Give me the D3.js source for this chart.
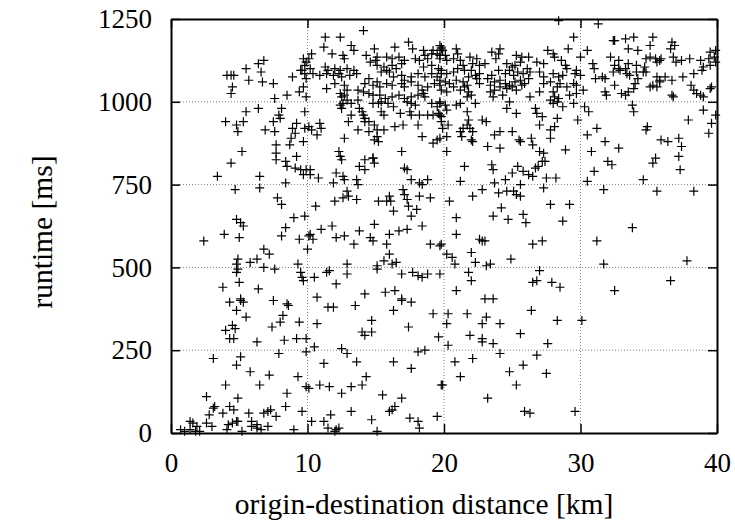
<!DOCTYPE html>
<html>
<head>
<meta charset="utf-8">
<script src="https://cdn.jsdelivr.net/npm/d3@7"></script>
<style>
  body { margin: 0; background: #fff; }
  svg { display: block; }
  text { font-family: "Liberation Serif", "Times New Roman", serif; fill: #000; }
</style>
</head>
<body>
<svg id="chart" width="735" height="530"></svg>
<script>
// axis ticks
const xTicks = [0, 10, 20, 30, 40];
const yTicks = [0, 250, 500, 750, 1000, 1250];

// [distance km, runtime ms]
const samples = [
  [6.8,1125],[6.4,1115],[5.5,1100],[6.6,1090],[4.1,1080],[4.4,1080],[4.6,1080],[5.7,1065],[6.7,1060],[7.5,1055],
  [4.5,1045],[4.4,1025],[8.5,1020],[7.6,1010],[9.4,1030],[9.7,1045],[8.9,1075],[9.5,1095],[9.7,1130],[9.9,1120],
  [9.8,1110],[9.6,1095],[9.8,1085],[9.9,1070],[6.4,980],[5.5,970],[8.1,980],[7.9,960],[4.0,940],[4.8,930],
  [5.3,940],[4.9,910],[7.5,940],[8.0,950],[6.9,915],[7.6,910],[9.2,935],[8.9,920],[9.1,905],[9.8,920],
  [8.8,890],[9.7,880],[8.7,870],[7.7,870],[5.2,850],[7.7,845],[9.2,835],[9.8,970],[9.9,1015],
  [4.4,815],[3.4,775],[6.5,775],[7.7,825],[8.4,820],[8.5,805],[9.1,800],[9.5,795],[9.7,780],[9.9,795],
  [8.4,755],[4.7,735],[6.5,740],[7.8,710],[8.1,690],[4.8,645],[5.1,635],[5.3,625],[9.0,650],[9.8,655],
  [8.4,620],[3.9,600],[5.0,590],[2.4,580],[8.1,595],[9.4,585],[10.1,595],[10.0,555],[6.8,555],[7.2,540],
  [4.9,525],[4.8,510],[4.9,495],[4.8,485],[5.8,515],[6.3,525],[6.8,500],[7.6,495],[9.3,510],[9.5,485],
  [9.6,470],[9.7,460],[3.8,440],[5.0,455],[6.4,435],[5.1,405],
  [4.3,395],[5.1,400],[5.3,395],[4.8,370],[5.5,350],[7.5,400],[8.5,390],[8.6,385],[8.2,355],[8.0,335],
  [7.4,320],[9.4,335],[4.5,325],[4.7,315],[4.0,310],[4.3,285],[4.6,285],[6.3,275],[8.3,280],[9.2,285],
  [9.9,285],[3.1,225],[5.1,230],[4.8,205],[7.9,240],[9.9,245],[5.8,185],[7.2,175],[9.3,170],[4.0,145],
  [6.5,145],[9.9,140],[2.6,110],[4.9,105],[8.5,120],[3.1,75],[3.2,80],[4.3,80],[4.6,70],[3.8,60],
  [2.8,55],[5.7,60],[6.8,60],[7.1,65],[7.3,70],[7.7,50],[8.4,80],[9.6,65],[1.4,35],[1.6,30],
  [2.6,30],[3.0,20],[4.2,25],[4.5,30],[4.8,35],[4.9,35],[5.9,35],[6.3,25],[5.9,20],[6.3,15],
  [7.1,20],[6.6,10],[9.0,10],[0.7,10],[1.0,5],[1.4,10],[1.8,5],[2.1,5],[1.9,20],[4.1,10],[5.2,5],
  [14.1,1215],[11.3,1195],[12.4,1195],[11.2,1165],[13.2,1170],[13.4,1155],[14.9,1160],[16.4,1165],[17.4,1180],[17.7,1160],
  [18.5,1155],[19.2,1155],[19.7,1170],[19.8,1160],[10.3,1145],[10.1,1130],[11.8,1145],[12.6,1140],[12.7,1130],[14.3,1140],
  [15.1,1135],[15.0,1125],[15.8,1135],[16.2,1130],[16.7,1135],[17.1,1125],[17.9,1130],[18.2,1125],[18.6,1140],[18.8,1130],
  [19.1,1145],[19.5,1145],[19.7,1140],[10.2,1100],[10.4,1085],[11.3,1105],[11.5,1095],[12.0,1100],[12.4,1095],[12.9,1100],
  [13.4,1095],[10.9,1080],[11.4,1085],[11.9,1080],[12.3,1085],[12.5,1075],[13.1,1080],[13.6,1085],[14.6,1120],[15.1,1110],
  [15.6,1105],[15.8,1095],[16.2,1110],[16.5,1100],[16.9,1115],[15.4,1090],[16.0,1090],[16.3,1075],[16.9,1080],[17.1,1065],
  [17.6,1075],[18.1,1085],[18.6,1075],[19.1,1085],[19.5,1075],[19.8,1085],[19.1,1110],[19.6,1100],[18.5,1105],[14.5,1070],
  [15.1,1060],[14.2,1055],[14.8,1050],[15.3,1045],[15.8,1055],[16.2,1050],[16.9,1055],[17.1,1045],[17.6,1060],[18.1,1050],
  [18.4,1035],[18.8,1045],[19.3,1055],[19.7,1050],[11.4,1040],[12.0,1055],[12.7,1050],[12.9,1035],[12.4,1025],[12.5,1015],
  [12.7,1020],[12.9,1005],[13.7,1035],[14.1,1030],[14.5,1025],[14.8,1020],[15.3,1020],[15.7,1010],[16.2,1015],[16.7,1020],
  [17.1,1010],[17.6,1015],[18.1,1020],[18.5,1025],[18.6,1015],[12.4,990],[12.5,980],[12.6,995],[13.2,995],[13.7,1005],
  [13.8,980],[14.8,995],[15.2,995],[15.4,1000],[15.9,995],[16.3,985],[17.3,1000],[17.6,995],[17.9,990],[19.1,995],
  [19.5,985],[19.7,1000],[13.2,960],[14.0,970],[14.1,960],[14.2,950],[15.4,970],[15.6,960],[16.8,965],[17.5,970],
  [17.6,960],[18.2,960],[18.8,960],[19.2,960],[19.6,965],[19.8,955],[13.0,940],[14.2,940],[14.5,940],[14.9,930],
  [16.4,925],[17.0,930],[18.1,930],[10.1,925],[10.3,915],[10.9,935],[11.0,920],[10.7,900],[13.7,915],[14.5,910],
  [15.1,915],[15.6,915],[15.1,895],[14.9,885],[15.2,880],[12.7,890],[18.4,895],[19.2,875],[19.5,885],[19.7,890],
  [12.3,850],[12.4,835],[14.8,830],[16.9,850],
  [12.5,825],[14.2,825],[14.8,830],[14.9,815],[13.8,805],[14.2,795],[10.2,795],[10.2,780],[10.8,770],[12.1,785],
  [12.6,775],[12.7,765],[13.6,765],[13.7,750],[11.9,755],[17.1,800],[17.3,795],[17.6,765],[18.2,755],[18.4,750],
  [18.8,765],[12.9,730],[13.0,715],[12.6,710],[13.6,705],[12.0,700],[10.6,685],[15.2,700],[15.8,700],[16.0,715],
  [16.1,700],[17.0,735],[17.1,720],[17.3,705],[17.4,685],[18.2,715],[19.0,710],[16.3,670],[18.0,675],[17.6,655],
  [11.0,615],[11.8,625],[13.8,610],[14.9,630],[10.2,600],[10.4,585],[12.1,590],[12.7,595],[14.6,590],[14.8,580],
  [13.4,570],[15.8,570],[16.0,600],[16.7,610],[17.3,615],[18.4,625],[19.0,570],[19.7,565],[16.0,540],[15.6,520],
  [15.1,505],[15.1,495],[16.2,510],[16.5,515],[12.9,510],[11.6,490],[11.4,485],[10.5,470],[12.9,480],[16.9,480],
  [17.7,485],[18.1,475],[18.4,470],[18.8,480],[19.7,480],[12.1,450],[14.2,420],[15.7,425],[16.4,430],[10.7,410],
  [16.9,405],
  [11.5,380],[11.9,380],[13.5,385],[16.9,400],[17.6,395],[16.3,370],[19.2,360],[10.7,330],[14.7,340],[17.4,320],
  [14.0,305],[14.2,295],[14.7,305],[10.5,260],[12.5,255],[12.9,240],[19.6,290],[18.1,245],[18.6,250],[11.2,210],
  [13.6,215],[16.3,215],[17.6,195],[14.3,170],[10.1,135],[10.9,145],[11.6,140],[13.2,140],[14.0,145],[12.5,120],
  [15.5,115],[16.9,105],[16.4,80],[16.2,70],[16.0,65],[19.8,145],[11.7,55],[13.2,65],[14.7,40],[17.5,45],
  [18.1,35],[18.2,15],[19.5,50],[10.3,35],[11.2,35],[11.5,15],[12.1,10],[12.3,15],[12.0,5],[15.1,5],
  [28.4,1245],[29.5,1195],[29.1,1160],[19.8,1165],[19.9,1155],[20.1,1140],[20.9,1160],[21.0,1145],[23.5,1150],[24.1,1160],
  [24.0,1145],[23.8,1130],[27.6,1155],[28.0,1145],[28.1,1135],[19.7,1130],[20.2,1125],[20.7,1130],[21.2,1125],[21.4,1110],
  [21.9,1135],[22.4,1130],[22.1,1115],[22.6,1110],[23.0,1115],[25.3,1140],[25.7,1135],[26.2,1135],[25.6,1120],[24.6,1115],
  [25.0,1105],[25.2,1110],[26.8,1120],[27.3,1115],[28.6,1125],[28.9,1110],[29.0,1100],[19.8,1095],[20.2,1085],[20.7,1090],
  [21.0,1100],[21.5,1095],[22.0,1095],[22.3,1080],[21.8,1075],[22.6,1085],[23.2,1070],[23.5,1080],[24.0,1095],[24.5,1085],
  [24.8,1095],[25.1,1080],[25.4,1090],[25.8,1085],[26.1,1100],[26.3,1090],[27.0,1090],[27.3,1075],[28.0,1085],[28.4,1075],
  [28.7,1080],[29.7,1095],[19.7,1065],[20.1,1060],[20.4,1055],[20.9,1065],[21.4,1060],[21.7,1050],[22.4,1070],[22.6,1055],
  [23.4,1050],[23.7,1060],[24.1,1065],[24.5,1055],[24.8,1050],[25.2,1060],[25.6,1065],[25.9,1055],[26.2,1070],[27.3,1055],
  [27.8,1060],[28.3,1045],[28.5,1055],[29.0,1045],[29.5,1055],[29.7,1050],[19.8,1035],[20.2,1030],[20.7,1045],[21.2,1035],
  [21.5,1045],[21.8,1030],[22.0,1020],[21.7,1015],[23.4,1030],[23.7,1035],[24.1,1045],[24.6,1040],[25.0,1045],[25.3,1035],
  [25.7,1050],[23.6,1015],[24.3,1020],[26.3,1015],[27.0,1030],[28.0,1030],[28.1,1015],[28.4,1010],[29.2,1020],[29.7,1025],
  [19.7,995],[20.1,990],[20.9,990],[21.2,995],[22.3,995],[24.8,1000],[24.6,980],[25.3,965],[26.7,980],[26.8,965],
  [27.2,955],[27.8,1005],[28.0,995],[28.3,1000],[28.7,985],[29.5,995],[20.2,975],[19.7,960],[19.8,940],[19.9,920],
  [20.3,930],[21.7,970],[21.8,945],[21.7,930],[21.9,920],[22.1,910],[21.4,920],[21.2,910],[21.3,895],[22.8,945],
  [23.1,940],[24.1,910],[23.7,900],[25.0,910],[25.5,885],[25.6,880],[26.4,890],[27.0,930],[27.8,915],[28.1,925],
  [28.3,950],[20.2,895],[22.0,885],[22.1,880],[23.2,865],[24.1,860],[26.5,870],[27.0,850],[27.3,845],[27.8,890],
  [28.9,855],[20.2,850],
  [21.5,805],[23.5,810],[23.6,795],[25.4,805],[25.0,785],[25.8,790],[26.2,780],[26.7,800],[26.9,805],[27.2,820],
  [27.4,820],[26.5,775],[27.5,770],[28.2,770],[21.2,760],[23.7,755],[24.5,765],[25.6,750],[27.3,740],[22.8,735],
  [22.1,715],[24.0,725],[24.6,730],[25.1,730],[25.3,720],[25.6,715],[20.4,700],[27.8,690],[29.2,690],[24.2,680],
  [23.6,655],[24.7,645],[25.8,660],[26.0,635],[20.9,650],[28.7,640],[20.9,600],[22.6,585],[23.0,580],[22.8,580],
  [19.8,570],[26.5,570],[27.2,580],[20.2,540],[20.6,530],[20.8,510],[22.0,545],[22.3,515],[23.1,505],[23.4,510],
  [24.9,525],[21.8,485],[22.0,460],[27.0,490],[26.5,455],[26.8,460],[27.9,455],[28.5,440],[20.9,430],[23.0,405],
  [23.6,405],
  [20.3,360],[20.2,330],[21.7,360],[23.1,350],[22.8,330],[24.1,330],[26.4,370],[28.3,340],[25.6,300],[21.9,295],
  [22.8,285],[22.8,275],[23.6,270],[20.3,265],[27.6,270],[24.1,240],[26.8,235],[20.8,215],[22.1,225],[25.8,205],
  [24.8,185],[27.5,180],[21.2,170],[25.3,145],[19.9,145],[23.2,105],[25.9,65],[26.3,60],[29.6,65],
  [31.3,1235],[32.4,1185],[32.5,1185],[33.3,1190],[33.9,1195],[35.3,1195],[35.1,1170],[36.7,1180],[36.9,1170],[36.6,1160],
  [33.5,1160],[34.2,1155],[32.2,1135],[32.8,1125],[30.5,1155],[30.0,1135],[34.8,1130],[35.1,1135],[35.5,1130],[35.8,1125],
  [35.9,1130],[35.6,1120],[36.8,1135],[37.0,1120],[37.4,1125],[38.0,1130],[38.8,1125],[39.4,1130],[39.5,1150],[39.9,1155],
  [39.8,1135],[39.9,1120],[30.9,1115],[31.0,1100],[32.5,1110],[32.8,1100],[33.5,1115],[33.3,1100],[34.1,1110],[34.7,1105],
  [34.8,1090],[34.6,1090],[32.4,1090],[32.9,1095],[33.4,1085],[33.6,1080],[34.1,1090],[34.2,1070],[35.6,1075],[35.8,1065],
  [36.2,1075],[36.7,1065],[37.5,1075],[38.3,1085],[39.0,1105],[39.5,1110],[38.9,1095],[29.6,1085],[30.0,1080],[31.1,1070],
  [31.6,1075],[31.8,1070],[32.5,1050],[30.2,1035],[31.8,1030],[31.9,1020],[33.0,1025],[33.3,1020],[33.5,1030],[33.9,1040],
  [34.0,1055],[35.1,1045],[35.3,1050],[35.6,1045],[35.8,1060],[36.7,1020],[36.8,1015],[38.1,1050],[38.3,1035],[38.5,1025],
  [38.8,1020],[39.0,1015],[39.5,1040],[39.6,1045],[33.8,990],[33.9,970],[30.3,985],[30.6,970],[29.8,945],[39.9,960],
  [39.0,975],[37.9,945],[39.6,935],[34.9,925],[34.8,915],[31.2,920],[30.5,900],[39.4,905],[35.9,885],[36.4,880],
  [37.2,890],[37.4,865],[31.8,880],[32.8,860],[30.8,850],[35.5,830],[37.2,835],
  [32.0,820],[32.3,810],[35.3,815],[37.3,795],[31.0,790],[30.5,760],[34.6,765],[31.7,735],[35.6,730],[38.3,730],
  [33.8,620],[31.2,580],[31.7,510],[37.8,520],[36.6,460],[32.5,430],[30.1,340]
];

const W = 735, H = 530;
const margin = {left: 171, right: 18, top: 19, bottom: 97};

const x = d3.scaleLinear().domain([0, 40]).range([margin.left, W - margin.right]);
const y = d3.scaleLinear().domain([0, 1250]).range([H - margin.bottom, margin.top]);

const svg = d3.select('#chart');

// dotted grid
const grid = svg.append('g').attr('stroke', '#808080').attr('stroke-width', 1).attr('stroke-dasharray', '1,2');
grid.selectAll('.gx').data(xTicks.slice(1, -1)).join('line')
  .attr('x1', d => x(d)).attr('x2', d => x(d))
  .attr('y1', y(0)).attr('y2', y(1250));
grid.selectAll('.gy').data(yTicks.slice(1, -1)).join('line')
  .attr('x1', x(0)).attr('x2', x(40))
  .attr('y1', d => y(d)).attr('y2', d => y(d));

// points
svg.append('g').selectAll('path').data(samples).join('path')
  .attr('transform', d => `translate(${x(d[0])},${y(d[1])})`)
  .attr('d', 'M-4.5,0H4.5M0,-4.5V4.5')
  .attr('fill', 'none')
  .attr('stroke', '#000')
  .attr('stroke-width', 1.2);

// axes, ticks point inward
function styleAxis(g) {
  g.select('.domain').attr('stroke', '#000').attr('stroke-width', 2);
  g.selectAll('.tick line').attr('stroke', '#000').attr('stroke-width', 1.5);
  g.selectAll('text').attr('font-family', '"Liberation Serif", serif').attr('font-size', 27).attr('fill', '#000');
}

const fmt = d3.format('d');
svg.append('g').attr('transform', `translate(0,${y(0)})`)
  .call(d3.axisBottom(x).tickValues(xTicks).tickFormat(fmt).tickSize(-9).tickSizeOuter(0).tickPadding(20))
  .call(styleAxis);
svg.append('g').attr('transform', `translate(${x(0)},0)`)
  .call(d3.axisLeft(y).tickValues(yTicks).tickFormat(fmt).tickSize(-9).tickSizeOuter(0).tickPadding(19))
  .call(styleAxis);
svg.append('g').attr('transform', `translate(0,${y(1250)})`)
  .call(d3.axisTop(x).tickValues(xTicks).tickSize(-9).tickSizeOuter(0).tickFormat(''))
  .call(styleAxis);
svg.append('g').attr('transform', `translate(${x(40)},0)`)
  .call(d3.axisRight(y).tickValues(yTicks).tickSize(-9).tickSizeOuter(0).tickFormat(''))
  .call(styleAxis);

// axis titles
svg.append('text')
  .attr('x', 424).attr('y', 514)
  .attr('text-anchor', 'middle')
  .attr('font-size', 29.5)
  .text('origin-destination distance [km]');
svg.append('text')
  .attr('transform', 'translate(52,232) rotate(-90)')
  .attr('text-anchor', 'middle')
  .attr('font-size', 29.5)
  .text('runtime [ms]');
</script>
</body>
</html>
